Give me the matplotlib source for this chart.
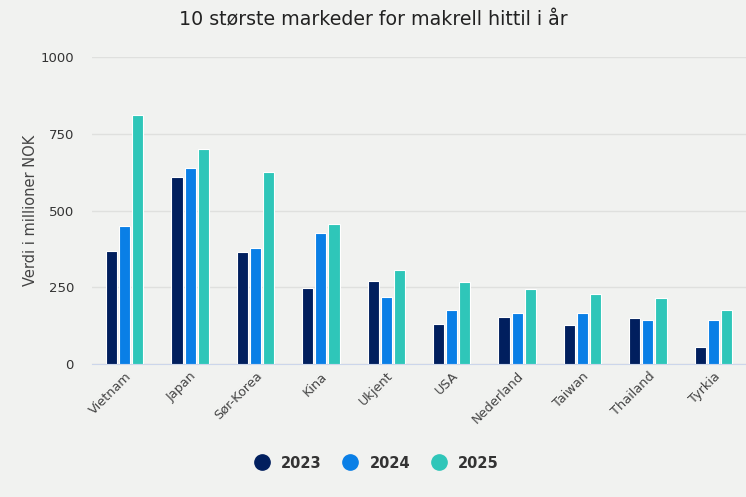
import matplotlib.pyplot as plt
import numpy as np
from matplotlib.lines import Line2D

# Data
markets = ["Vietnam", "Japan", "Sør-Korea", "Kina", "Ukjent", "USA",
           "Nederland", "Taiwan", "Thailand", "Tyrkia"]
v2023 = [368, 608, 364, 247, 270, 130, 154, 126, 151, 54]
v2024 = [450, 639, 377, 426, 218, 175, 167, 167, 143, 143]
v2025 = [810, 700, 627, 457, 306, 268, 243, 228, 216, 175]
years = ["2023", "2024", "2025"]
colors = ["#011f5e", "#0a7fe6", "#2fc6b9"]
bg = "#f1f2f0"

fig = plt.figure(figsize=(7.46, 4.97), dpi=100, facecolor=bg)
ax = fig.add_axes([92 / 746, 1 - 364 / 497, 654 / 746, 307 / 497])
ax.set_facecolor(bg)

x = np.arange(len(markets))
w = 0.17
step = 0.2
for i, (vals, col) in enumerate(zip([v2023, v2024, v2025], colors)):
    ax.bar(x + (i - 1) * step, vals, width=w, color=col,
           edgecolor="white", linewidth=0.8, zorder=3)

ax.set_xlim(-0.5, len(markets) - 0.5)
ax.set_ylim(0, 1000)
ax.set_yticks([0, 250, 500, 750, 1000])
ax.grid(axis="y", color="#dfe0de", linewidth=1, zorder=0)
for s in ["top", "right", "left"]:
    ax.spines[s].set_visible(False)
ax.spines["bottom"].set_color("#ccd6eb")
ax.tick_params(axis="y", length=0, labelsize=9.5, labelcolor="#333333", pad=13)
ax.tick_params(axis="x", length=0, labelsize=9.3, labelcolor="#444444", pad=4)
ax.set_xticks(x)
ax.set_xticklabels(markets, rotation=45, ha="right", rotation_mode="anchor")
ax.set_ylabel("Verdi i millioner NOK", fontsize=10.5, color="#444444", labelpad=2)

fig.text(0.5, 1 - 20 / 497, "10 største markeder for makrell hittil i år",
         ha="center", va="center", fontsize=13.7, color="#222222")

handles = [Line2D([], [], marker="o", linestyle="", markersize=11,
                  markerfacecolor=c, markeredgecolor=c) for c in colors]
leg = fig.legend(handles, years, loc="center", bbox_to_anchor=(0.5, 1 - 463 / 497),
                 ncol=3, frameon=False, handletextpad=0.3, columnspacing=1.0,
                 prop={"weight": "bold", "size": 10.5})
for t in leg.get_texts():
    t.set_color("#333333")

fig.savefig("out.png", dpi=100, facecolor=bg)
